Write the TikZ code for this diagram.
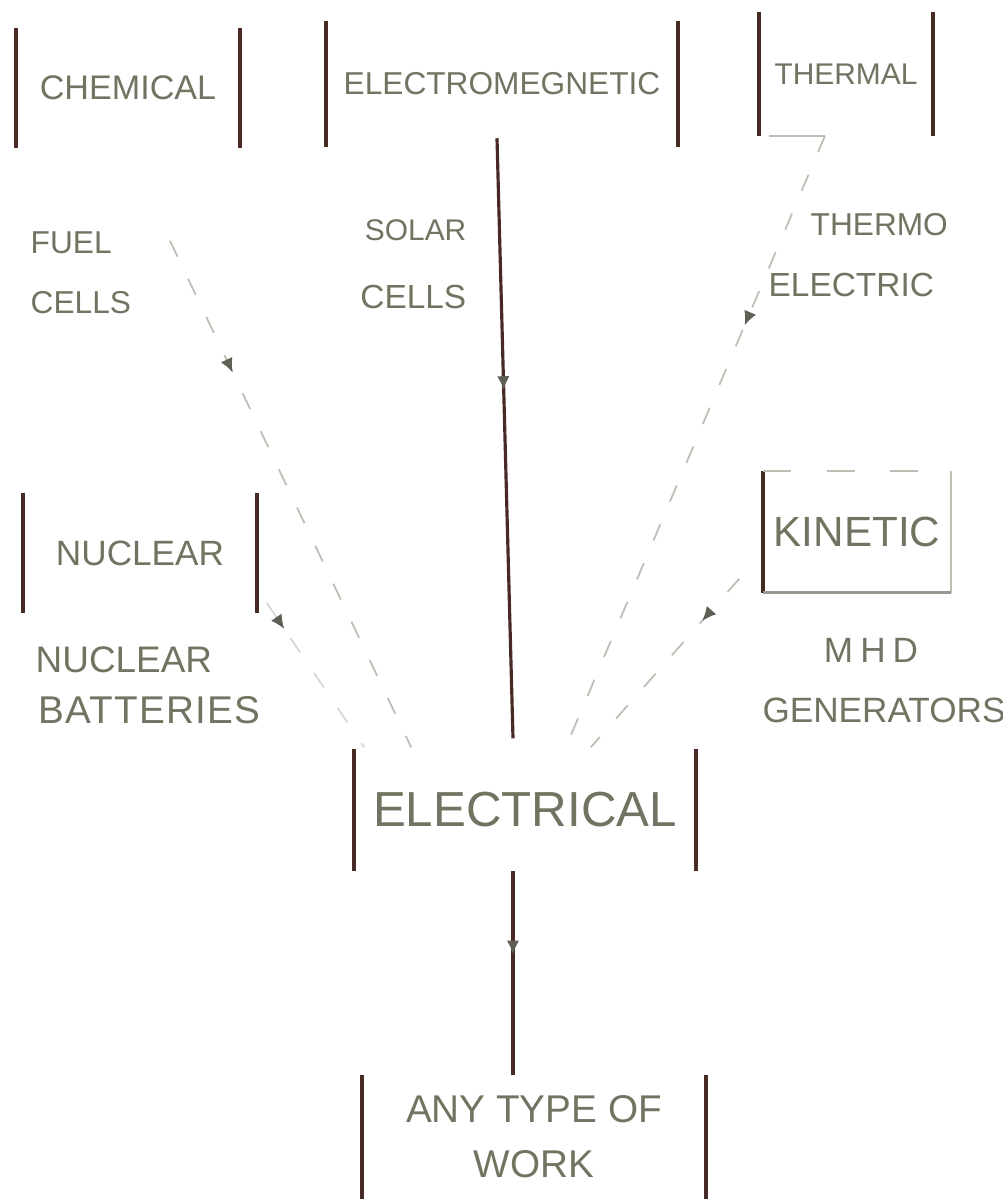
\documentclass[tikz,border=0pt]{standalone}
\usepackage{fontspec}
\setmainfont{Liberation Sans}
\usetikzlibrary{arrows.meta,calc,decorations.markings}
\definecolor{boxc}{RGB}{72,42,36}
\definecolor{txtc}{RGB}{115,115,98}
\definecolor{faintc}{RGB}{190,190,180}
\definecolor{arrc}{RGB}{95,95,85}
\tikzset{
  boxside/.style={draw=boxc, line width=1.1pt},
  softside/.style={draw=faintc, line width=0.5pt},
  sidebox/.style={inner sep=0pt, text=txtc,
    append after command={(\tikzlastnode.north west) edge[boxside] (\tikzlastnode.south west)
                          (\tikzlastnode.north east) edge[boxside] (\tikzlastnode.south east)}},
  kinbox/.style={inner sep=0pt, text=txtc,
    append after command={(\tikzlastnode.north west) edge[boxside] (\tikzlastnode.south west)
                          (\tikzlastnode.north east) edge[softside] (\tikzlastnode.south east)
                          (\tikzlastnode.south west) edge[draw=faintc!80!black, line width=0.8pt] (\tikzlastnode.south east)
                          (\tikzlastnode.north west) edge[softside, dash pattern=on 8pt off 10pt] (\tikzlastnode.north east)}},
  lbl/.style={inner sep=0pt, text=txtc},
  mainln/.style={draw=boxc, line width=0.9pt},
  faintln/.style={draw=faintc, line width=0.5pt, dash pattern=on 5pt off 7pt},
  midarrow/.style={postaction={decorate, decoration={markings,
      mark=at position #1 with {\arrow[color=arrc]{Latex[length=4pt,width=3.6pt]}}}}}
}
\begin{document}
\begin{tikzpicture}[x=0.01cm, y=-0.01cm]
\useasboundingbox (0,0) rectangle (1003,1199);
\fill[white] (0,0) rectangle (1003,1199);

% boxes
\node[sidebox, minimum width=2.22cm, minimum height=1.18cm, font=\fontsize{9.7}{12}\selectfont] (chem) at (128,88) {CHEMICAL};
\node[sidebox, minimum width=3.5cm, minimum height=1.25cm, font=\fontsize{9}{11}\selectfont] (em) at (502,84) {ELECTROMEGNETIC};
\node[sidebox, minimum width=1.72cm, minimum height=1.22cm, font=\fontsize{8.5}{10}\selectfont] (therm) at (846,74) {THERMAL};
\node[sidebox, minimum width=2.32cm, minimum height=1.18cm, font=\fontsize{10}{12}\selectfont] (nuc) at (140,553) {NUCLEAR};
\node[kinbox, minimum width=1.86cm, minimum height=1.2cm, font=\fontsize{12}{14}\selectfont] (kin) at (857,532) {KINETIC};
\node[sidebox, minimum width=3.4cm, minimum height=1.2cm, font=\fontsize{14}{16}\selectfont] (elec) at (525,810) {ELECTRICAL};
\node[sidebox, minimum width=3.42cm, minimum height=1.22cm, align=center, font=\fontsize{11}{15.6}\selectfont] (work) at (534,1137) {ANY TYPE OF\\WORK};

% labels
\node[lbl, anchor=west, font=\fontsize{9}{11}\selectfont] (fuel1) at (30,243) {FUEL};
\node[lbl, anchor=west, font=\fontsize{9}{11}\selectfont] (fuel2) at (30,303) {CELLS};
\node[lbl, anchor=east, font=\fontsize{8.5}{11}\selectfont] (sol1) at (467,230) {SOLAR};
\node[lbl, anchor=east, font=\fontsize{9.5}{11}\selectfont] (sol2) at (467,297) {CELLS};
\node[lbl, anchor=west, font=\fontsize{9}{11}\selectfont] (tm1) at (810,225) {THERMO};
\node[lbl, anchor=west, font=\fontsize{9.5}{11}\selectfont] (tm2) at (768,285) {ELECTRIC};
\node[lbl, anchor=west, font=\fontsize{10.5}{12}\selectfont] (nb1) at (35,660) {NUCLEAR};
\node[lbl, anchor=west, font=\fontsize{11}{12}\addfontfeature{LetterSpace=3}\selectfont] (nb2) at (38,710) {BATTERIES};
\node[lbl, font=\fontsize{10}{12}\addfontfeature{LetterSpace=20}\selectfont] (mhd1) at (871,650) {MHD};
\node[lbl, font=\fontsize{10}{12}\selectfont] (mhd2) at (884,710) {GENERATORS};

% connectors
\draw[mainln, midarrow=0.42] ($(em.south)+(-5,-9)$) -- ($(elec.north)+(-12,-11)$);
\draw[mainln, midarrow=0.41] ($(elec.south)+(-12,0)$) -- ($(work.north)+(-21,0)$);
\draw[faintln, midarrow=0.26] ($(chem.south)+(42,93)$) -- ($(elec.north west)+(57,-2)$);
\draw[faintln, draw=faintc!60, midarrow=0.18] ($(nuc.east)+(10,50)$) -- ($(elec.north west)+(10,-2)$);
\draw[faintln, midarrow=0.31] ($(therm.south)+(-21,0)$) -- ($(elec.north east)+(-130,-2)$);
\draw[softside] ($(therm.south west)+(10,0)$) -- ($(therm.south)+(-21,0)$);
\draw[faintln, midarrow=0.25] ($(kin.south west)+(-24,-14)$) -- ($(elec.north east)+(-105,-2)$);
\end{tikzpicture}
\end{document}
